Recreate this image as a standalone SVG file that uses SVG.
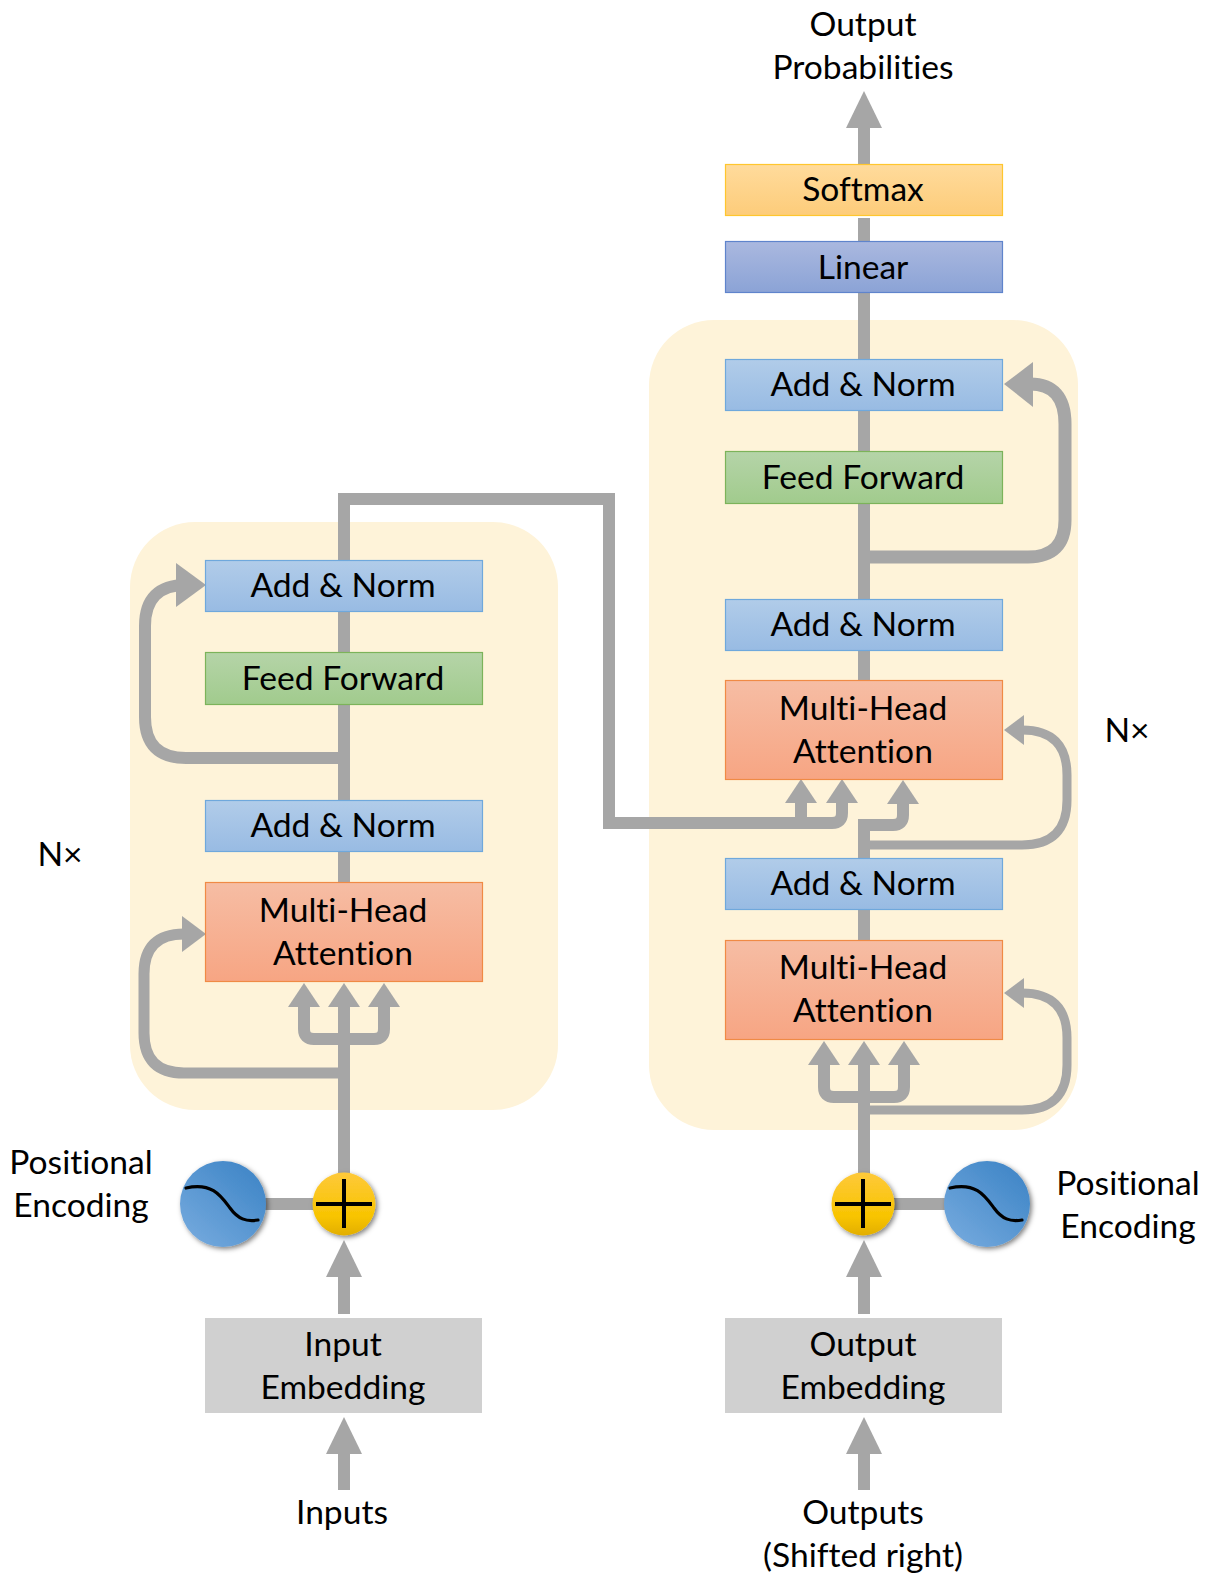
<svg xmlns="http://www.w3.org/2000/svg" width="1210" height="1575" viewBox="0 0 1210 1575">
<style>
text{font-family:"Lato","Open Sans","Liberation Sans",sans-serif;font-size:33.6px;fill:#000;text-anchor:middle;font-variant-ligatures:none}
.panel{fill:#fef3d9}
.line{fill:none;stroke:#a6a6a6;stroke-width:12}
.thin{fill:none;stroke:#a6a6a6;stroke-width:9}
.head{fill:#a6a6a6}
.b{stroke-width:1.2}
.addnorm{fill:url(#gBlue);stroke:#6fa8dc}
.ff{fill:url(#gGreen);stroke:#7cb35a}
.mha{fill:url(#gOrange);stroke:#f08a45}
.soft{fill:url(#gYellow);stroke:#ffc62e}
.lin{fill:url(#gIndigo);stroke:#5f84cc}
.emb{fill:#d0d0d0}
.blue{fill:url(#gCircle);filter:url(#sh)}
.add{fill:url(#gAdd);filter:url(#sh)}
.mark{fill:none;stroke:#000;stroke-width:4}
.sine{fill:none;stroke:#000;stroke-width:3.2;stroke-linecap:round}
</style>
<defs>
<linearGradient id="gBlue" x1="0" y1="0" x2="0" y2="1"><stop offset="0" stop-color="#b1cce9"/><stop offset="1" stop-color="#98bbe3"/></linearGradient>
<linearGradient id="gGreen" x1="0" y1="0" x2="0" y2="1"><stop offset="0" stop-color="#b5d4a8"/><stop offset="1" stop-color="#a1cb8d"/></linearGradient>
<linearGradient id="gOrange" x1="0" y1="0" x2="0" y2="1"><stop offset="0" stop-color="#f6bda4"/><stop offset="1" stop-color="#f7a583"/></linearGradient>
<linearGradient id="gYellow" x1="0" y1="0" x2="0" y2="1"><stop offset="0" stop-color="#ffdb9c"/><stop offset="1" stop-color="#fdcc7a"/></linearGradient>
<linearGradient id="gIndigo" x1="0" y1="0" x2="0" y2="1"><stop offset="0" stop-color="#aab8df"/><stop offset="1" stop-color="#8ba3d6"/></linearGradient>
<linearGradient id="gCircle" x1="0.15" y1="0.9" x2="0.8" y2="0.15"><stop offset="0" stop-color="#71a7dc"/><stop offset="1" stop-color="#4489c9"/></linearGradient>
<linearGradient id="gAdd" x1="0" y1="0" x2="0" y2="1"><stop offset="0" stop-color="#fec93a"/><stop offset="0.7" stop-color="#f8c400"/><stop offset="1" stop-color="#e2ae05"/></linearGradient>
<filter id="sh" x="-20%" y="-20%" width="150%" height="150%"><feDropShadow dx="2" dy="2" stdDeviation="2.5" flood-color="#000" flood-opacity="0.5"/></filter>
</defs>

<g id="panels">
<rect id="encoder-panel" class="panel" x="130" y="522" width="428" height="588" rx="65"/>
<rect id="decoder-panel" class="panel" x="649" y="320" width="429" height="810" rx="65"/>
</g>

<g id="connectors">
<path class="line" d="M864 164V120"/><polygon class="head" points="864,91 882,128 846,128"/>
<path class="line" d="M864 218V242M864 292V780M864 825V940M864 1039H864M864 1060V1175"/>
<path class="line" d="M1030 384Q1065 384 1065 424V520Q1065 557 1028 557H864" style="stroke-width:13"/><polygon class="head" points="1004,384 1033,362 1033,407"/>
<path class="thin" d="M864 845H1022Q1067 845 1067 800V775Q1067 730 1022 730H1015"/><polygon class="head" points="1004,730 1024,715 1024,745"/>
<path class="thin" d="M864 1110H1022Q1067 1110 1067 1065V1038Q1067 993 1022 993H1015"/><polygon class="head" points="1004,993 1024,978 1024,1008"/>
<path class="line" d="M824 1060V1087Q824 1097 834 1097H894Q904 1097 904 1087V1060"/>
<polygon class="head" points="824,1041 840,1065 808,1065"/><polygon class="head" points="864,1041 880,1065 848,1065"/><polygon class="head" points="904,1041 920,1065 888,1065"/>
<path class="line" d="M864 858V825H893Q903 825 903 815V798"/><polygon class="head" points="903,780 919,804 887,804"/>
<path class="line" d="M344 561V499H609V823M603 823H832Q842 823 842 813V798M801 823V798"/>
<polygon class="head" points="801,779 817,803 785,803"/><polygon class="head" points="842,779 858,803 826,803"/>
<path class="line" d="M344 611V652M344 704V800M344 851V882M344 1002V1175"/>
<path class="line" d="M344 758H186Q145 758 145 717V626Q145 585 186 585H180"/><polygon class="head" points="206,585 176,563 176,607"/>
<path class="thin" d="M344 1073H184Q144 1073 144 1033V974Q144 934 184 934H190" style="stroke-width:11"/><polygon class="head" points="206,934 182,916 182,952"/>
<path class="line" d="M304 1002V1029Q304 1039 314 1039H374Q384 1039 384 1029V1002"/>
<polygon class="head" points="304,983 320,1007 288,1007"/><polygon class="head" points="344,983 360,1007 328,1007"/><polygon class="head" points="384,983 400,1007 368,1007"/>
<path class="line" d="M262 1204H320M885 1204H950"/>
<path class="line" d="M344 1314V1270M864 1314V1270M344 1490V1445M864 1490V1445"/>
<polygon class="head" points="344,1240 362,1277 326,1277"/><polygon class="head" points="864,1240 882,1277 846,1277"/>
<polygon class="head" points="344,1417 362,1454 326,1454"/><polygon class="head" points="864,1417 882,1454 846,1454"/>
</g>

<g id="softmax"><rect class="soft b" x="725.5" y="164.5" width="277" height="51"/><text x="863" y="201">Softmax</text></g>
<g id="linear"><rect class="lin b" x="725.5" y="241.5" width="277" height="51"/><text x="863" y="279">Linear</text></g>
<g id="dec-addnorm3"><rect class="addnorm b" x="725.5" y="359.5" width="277" height="51"/><text x="863" y="396">Add &amp; Norm</text></g>
<g id="dec-ff"><rect class="ff b" x="725.5" y="451.5" width="277" height="52"/><text x="863" y="489">Feed Forward</text></g>
<g id="dec-addnorm2"><rect class="addnorm b" x="725.5" y="599.5" width="277" height="51"/><text x="863" y="636">Add &amp; Norm</text></g>
<g id="dec-mha2"><rect class="mha b" x="725.5" y="680.5" width="277" height="99"/><text x="863" y="720">Multi-Head</text><text x="863" y="763">Attention</text></g>
<g id="dec-addnorm1"><rect class="addnorm b" x="725.5" y="858.5" width="277" height="51"/><text x="863" y="895">Add &amp; Norm</text></g>
<g id="dec-mha1"><rect class="mha b" x="725.5" y="940.5" width="277" height="99"/><text x="863" y="979">Multi-Head</text><text x="863" y="1022">Attention</text></g>

<g id="enc-addnorm2"><rect class="addnorm b" x="205.5" y="560.5" width="277" height="51"/><text x="343" y="597">Add &amp; Norm</text></g>
<g id="enc-ff"><rect class="ff b" x="205.5" y="652.5" width="277" height="52"/><text x="343" y="690">Feed Forward</text></g>
<g id="enc-addnorm1"><rect class="addnorm b" x="205.5" y="800.5" width="277" height="51"/><text x="343" y="837">Add &amp; Norm</text></g>
<g id="enc-mha"><rect class="mha b" x="205.5" y="882.5" width="277" height="99"/><text x="343" y="922">Multi-Head</text><text x="343" y="965">Attention</text></g>

<g id="enc-pe"><circle class="blue" cx="223" cy="1204" r="43"/><path class="sine" d="M186 1188C212 1182 221 1196 230 1208C238 1219 246 1222 258 1220"/></g>
<g id="enc-add"><circle class="add" cx="344" cy="1204" r="31.5"/><path class="mark" d="M344 1179V1228M316 1204H372"/></g>
<g id="dec-pe"><circle class="blue" cx="987" cy="1204" r="43"/><path class="sine" d="M950 1188C976 1182 985 1196 994 1208C1002 1219 1010 1222 1022 1220"/></g>
<g id="dec-add"><circle class="add" cx="863" cy="1204" r="31.5"/><path class="mark" d="M863 1179V1228M835 1204H891"/></g>

<g id="input-embedding"><rect class="emb" x="205" y="1318" width="277" height="95"/><text x="343" y="1356">Input</text><text x="343" y="1399">Embedding</text></g>
<g id="output-embedding"><rect class="emb" x="725" y="1318" width="277" height="95"/><text x="863" y="1356">Output</text><text x="863" y="1399">Embedding</text></g>

<g id="labels">
<text x="863" y="36">Output</text><text x="863" y="79">Probabilities</text>
<text x="60" y="866">N×</text><text x="1127" y="742">N×</text>
<text x="81" y="1174">Positional</text><text x="81" y="1217">Encoding</text>
<text x="1128" y="1195">Positional</text><text x="1128" y="1238">Encoding</text>
<text x="342" y="1524">Inputs</text>
<text x="863" y="1524">Outputs</text><text x="863" y="1567">(Shifted right)</text>
</g>
</svg>
